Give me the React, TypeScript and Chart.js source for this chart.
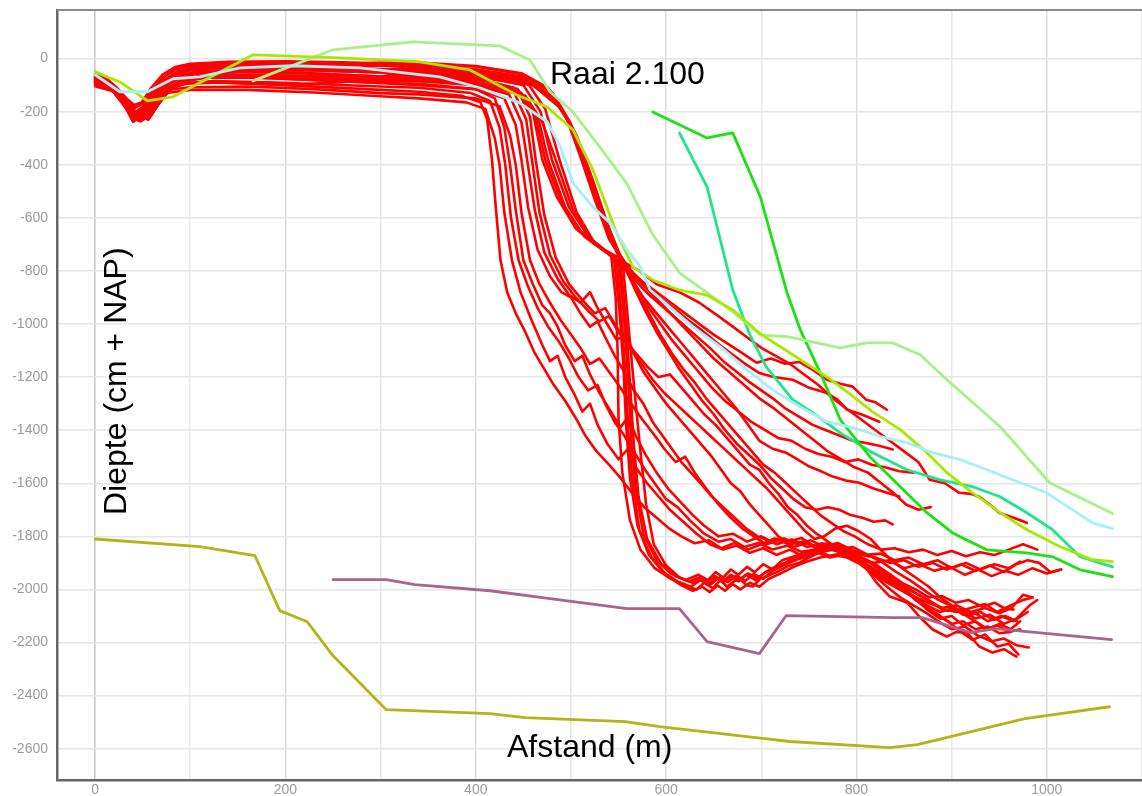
import React, { useEffect, useRef } from 'react';
import { Chart, registerables } from 'chart.js';

Chart.register(...registerables);

type Pt = [number, number];

const TITLE = 'Raai 2.100';
const X_TITLE = 'Afstand (m)';
const Y_TITLE = 'Diepte (cm + NAP)';

const X_MIN = -40;
const X_MAX = 1100;
const Y_MIN = -2718;
const Y_MAX = 183;

// ---- coloured reference profiles ----
const olive: Pt[] = [[0,-1810],[110,-1839],[168,-1873],[194,-2080],[223,-2122],[250,-2250],[306,-2453],[415,-2468],[452,-2483],[557,-2498],[593,-2517],[699,-2560],[730,-2573],[835,-2596],[864,-2585],[977,-2487],[1066,-2442]];
const purple: Pt[] = [[250,-1963],[306,-1963],[336,-1982],[415,-2005],[478,-2035],[559,-2072],[614,-2072],[643,-2197],[698,-2242],[726,-2099],[838,-2106],[869,-2106],[920,-2163],[946,-2148],[1068,-2189]];
const lightGreen: Pt[] = [[166,-84],[250,33],[334,63],[425,48],[457,-5],[478,-125],[502,-201],[530,-332],[559,-472],[586,-664],[614,-807],[643,-882],[670,-954],[699,-1041],[727,-1048],[783,-1090],[811,-1071],[838,-1071],[867,-1116],[895,-1210],[951,-1387],[1003,-1598],[1069,-1714]];
const yellowGreen: Pt[] = [[0,-50],[26,-88],[55,-159],[82,-144],[166,14],[257,3],[341,-12],[394,-43],[443,-137],[475,-182],[502,-268],[523,-419],[548,-657],[565,-785],[586,-834],[614,-872],[643,-891],[670,-947],[699,-1037],[733,-1116],[769,-1199],[790,-1255],[817,-1331],[846,-1398],[874,-1485],[895,-1560],[922,-1636],[951,-1711],[979,-1775],[1014,-1839],[1048,-1888],[1069,-1895]];
const lightBlue: Pt[] = [[0,-61],[26,-125],[55,-125],[82,-76],[110,-69],[152,-35],[208,-27],[278,-35],[362,-69],[404,-110],[446,-167],[475,-238],[489,-333],[502,-468],[523,-559],[541,-619],[559,-721],[573,-785],[583,-871],[607,-946],[628,-1010],[657,-1086],[685,-1172],[712,-1248],[740,-1311],[769,-1368],[796,-1390],[825,-1424],[853,-1447],[880,-1485],[909,-1511],[937,-1549],[964,-1587],[1000,-1636],[1027,-1700],[1048,-1749],[1069,-1771]];
const darkGreen: Pt[] = [[586,-201],[643,-299],[670,-280],[699,-521],[727,-882],[741,-1022],[762,-1184],[783,-1361],[814,-1500],[846,-1613],[874,-1711],[901,-1787],[937,-1851],[979,-1862],[1006,-1877],[1035,-1926],[1069,-1952]];
const teal: Pt[] = [[614,-280],[643,-483],[670,-871],[688,-1041],[705,-1161],[733,-1285],[754,-1334],[783,-1410],[817,-1485],[853,-1549],[888,-1587],[922,-1613],[951,-1651],[979,-1711],[1006,-1775],[1035,-1877],[1069,-1915]];

// ---- red survey profiles: near-shore parts ----
const P1: Pt[] = [[0,-62],[12,-80],[24,-120],[34,-160],[42,-185],[50,-170],[60,-120],[72,-70],[85,-40],[100,-28],[140,-18],[200,-15],[260,-20],[300,-25]];
const P1b: Pt[] = [[0,-68],[13,-88],[25,-130],[36,-175],[43,-200],[51,-180],[61,-130],[73,-80],[86,-50],[102,-35],[150,-25],[210,-22],[260,-26],[300,-28]];
const P1c: Pt[] = [[0,-58],[12,-75],[23,-110],[33,-150],[41,-175],[49,-165],[59,-110],[71,-60],[84,-32],[100,-20],[140,-12],[200,-10],[260,-14],[300,-18]];
const P2: Pt[] = [[0,-70],[14,-95],[26,-140],[36,-190],[44,-215],[52,-195],[62,-140],[74,-90],[88,-55],[105,-40],[150,-32],[210,-35],[260,-42],[300,-48]];
const P2b: Pt[] = [[0,-75],[15,-98],[27,-150],[37,-200],[45,-222],[53,-205],[63,-150],[75,-100],[89,-65],[108,-48],[160,-42],[220,-44],[300,-52]];
const P2c: Pt[] = [[0,-66],[13,-92],[25,-135],[35,-180],[43,-205],[51,-190],[61,-135],[73,-85],[87,-50],[104,-36],[150,-28],[210,-30],[260,-34],[300,-40]];
const P3: Pt[] = [[0,-80],[15,-100],[28,-150],[38,-205],[46,-225],[54,-200],[64,-150],[76,-100],[90,-70],[110,-55],[160,-50],[220,-55],[300,-68]];
const P3b: Pt[] = [[0,-84],[16,-106],[29,-160],[39,-215],[47,-232],[55,-210],[65,-160],[77,-110],[91,-80],[112,-65],[170,-62],[230,-66],[300,-76]];
const P3c: Pt[] = [[0,-86],[17,-108],[30,-165],[40,-225],[48,-236],[56,-215],[66,-165],[78,-115],[93,-85],[115,-72],[170,-70],[240,-76],[300,-85]];
const P4: Pt[] = [[0,-88],[16,-110],[30,-170],[40,-238],[48,-215],[56,-230],[66,-175],[78,-120],[92,-85],[115,-70],[170,-72],[240,-82],[300,-92]];
const P5: Pt[] = [[0,-95],[18,-120],[32,-185],[42,-225],[50,-205],[58,-215],[68,-160],[80,-110],[96,-95],[130,-90],[200,-100],[300,-118]];
const P6: Pt[] = [[0,-99],[20,-118],[34,-180],[44,-210],[54,-195],[64,-150],[76,-118],[100,-108],[160,-105],[230,-115],[300,-130]];
const P7: Pt[] = [[0,-104],[21,-125],[35,-190],[45,-228],[53,-200],[62,-170],[75,-130],[100,-118],[160,-118],[230,-128],[300,-142]];
const P8: Pt[] = [[0,-92],[18,-112],[31,-178],[41,-232],[49,-210],[57,-222],[67,-168],[79,-116],[94,-92],[125,-85],[190,-90],[300,-105]];
const PS1: Pt[] = [[265,-22],[300,-15]];
const PS2: Pt[] = [[144,-92],[208,-99],[260,-88],[300,-72]];

// ---- red survey profiles: offshore parts ----
const TA1: Pt[] = [[340,-125],[385,-140],[405,-165],[412,-230],[417,-380],[421,-560],[426,-760],[433,-880],[442,-960],[452,-1030],[462,-1110],[472,-1170],[482,-1230],[494,-1290],[506,-1360],[515,-1420],[527,-1480],[540,-1530],[552,-1580],[565,-1640],[577,-1690],[590,-1730],[603,-1770],[616,-1800],[630,-1826],[645,-1815],[658,-1845],[672,-1825],[686,-1850],[700,-1830],[714,-1808],[728,-1820],[742,-1806],[756,-1838],[770,-1826],[784,-1850],[798,-1862],[812,-1895],[826,-1930],[840,-1975],[855,-2010],[868,-2055],[882,-2090],[896,-2120],[910,-2160],[922,-2190],[935,-2170],[948,-2215],[960,-2205],[970,-2245]];
const TA2: Pt[] = [[340,-150],[390,-165],[410,-190],[420,-300],[425,-400],[430,-580],[438,-760],[447,-880],[458,-980],[470,-1080],[478,-1140],[486,-1120],[494,-1200],[503,-1260],[512,-1330],[520,-1300],[528,-1380],[538,-1450],[550,-1510],[560,-1470],[568,-1540],[580,-1600],[592,-1650],[604,-1700],[618,-1745],[632,-1790],[646,-1830],[660,-1850],[674,-1835],[688,-1862],[702,-1845],[716,-1870],[730,-1850],[744,-1875],[758,-1860],[772,-1880],[786,-1870],[800,-1890],[815,-1930],[830,-1970],[845,-2000],[860,-2030],[874,-2075],[888,-2110],[900,-2100],[912,-2135],[925,-2120],[938,-2150],[950,-2130],[962,-2150],[972,-2120]];
const TA3: Pt[] = [[340,-110],[395,-130],[415,-160],[425,-260],[431,-400],[437,-600],[445,-760],[455,-860],[465,-940],[476,-1010],[488,-1070],[498,-1130],[508,-1200],[518,-1250],[528,-1230],[536,-1300],[546,-1370],[556,-1420],[566,-1480],[578,-1550],[590,-1610],[600,-1660],[612,-1690],[625,-1740],[640,-1790],[655,-1820],[668,-1810],[682,-1840],[697,-1825],[712,-1850],[727,-1835],[742,-1858],[757,-1850],[772,-1875],[787,-1860],[802,-1890],[818,-1900],[834,-1890],[850,-1920],[866,-1905],[882,-1930],[898,-1915],[914,-1945],[928,-1925],[942,-1950],[956,-1930],[970,-1945],[985,-1920],[1000,-1940],[1015,-1925]];
const TA4: Pt[] = [[340,-95],[400,-115],[420,-150],[430,-260],[436,-400],[442,-570],[450,-760],[460,-850],[470,-930],[478,-960],[486,-1010],[494,-1080],[504,-1140],[512,-1120],[520,-1190],[530,-1260],[542,-1330],[552,-1390],[560,-1350],[568,-1420],[578,-1490],[590,-1560],[602,-1620],[615,-1670],[628,-1720],[640,-1760],[655,-1800],[670,-1790],[685,-1820],[700,-1800],[716,-1830],[732,-1812],[748,-1840],[764,-1826],[780,-1850],[796,-1840],[812,-1870],[828,-1900],[842,-1935],[856,-1965],[870,-2000],[884,-2035],[898,-2060],[912,-2095],[925,-2090],[938,-2120],[952,-2100],[965,-2120],[980,-2085]];
const TA5: Pt[] = [[340,-135],[400,-150],[425,-180],[436,-290],[442,-400],[448,-580],[457,-760],[467,-850],[478,-920],[490,-990],[500,-1040],[510,-1090],[520,-1150],[530,-1130],[540,-1180],[552,-1240],[563,-1300],[575,-1360],[588,-1420],[598,-1470],[610,-1520],[620,-1500],[630,-1560],[642,-1620],[655,-1680],[668,-1730],[680,-1770],[692,-1800],[705,-1830],[720,-1815],[734,-1840],[748,-1825],[762,-1850],[776,-1838],[790,-1860],[805,-1880],[820,-1910],[835,-1950],[850,-1985],[865,-2020],[880,-2050],[895,-2080],[910,-2075],[925,-2110],[940,-2095],[955,-2130],[968,-2110],[982,-2060],[990,-2040]];

const TB1: Pt[] = [[340,-60],[400,-75],[440,-110],[460,-200],[470,-382],[485,-520],[505,-640],[525,-700],[542,-735],[547,-900],[549,-1100],[550,-1360],[554,-1560],[562,-1740],[573,-1850],[588,-1920],[605,-1960],[620,-1985],[632,-2000],[640,-1975],[649,-1995],[657,-1965],[664,-1990],[671,-1970],[677,-1960],[685,-1985],[691,-1989],[699,-1960],[706,-1951],[716,-1935],[727,-1914],[740,-1899],[750,-1880],[761,-1861],[775,-1850],[790,-1861],[806,-1899],[821,-1974],[835,-2027],[853,-2049],[866,-2102],[880,-2151],[895,-2178],[905,-2160],[916,-2162],[929,-2215],[943,-2238],[955,-2225],[968,-2253]];
const TB2: Pt[] = [[340,-55],[400,-70],[445,-120],[463,-220],[473,-382],[490,-540],[510,-650],[530,-710],[545,-745],[551,-950],[555,-1150],[558,-1380],[562,-1580],[570,-1760],[582,-1870],[597,-1935],[612,-1970],[626,-1990],[636,-1965],[645,-1985],[652,-1955],[660,-1975],[668,-1950],[676,-1970],[684,-1945],[694,-1965],[704,-1935],[716,-1920],[730,-1890],[745,-1870],[760,-1850],[772,-1830],[786,-1845],[800,-1870],[815,-1900],[830,-1935],[845,-1980],[860,-2010],[875,-2040],[890,-2075],[905,-2085],[920,-2070],[935,-2055],[948,-2085],[962,-2060],[975,-2040],[985,-2030]];
const TB3: Pt[] = [[340,-70],[400,-85],[448,-130],[466,-230],[476,-382],[494,-560],[514,-670],[533,-720],[548,-760],[553,-960],[557,-1180],[560,-1400],[565,-1600],[572,-1780],[585,-1880],[600,-1945],[616,-1985],[628,-2005],[638,-1990],[646,-2010],[654,-1985],[662,-2005],[670,-1980],[678,-2000],[688,-1975],[698,-1990],[708,-1960],[720,-1940],[734,-1915],[748,-1895],[762,-1880],[776,-1870],[790,-1880],[804,-1905],[818,-1945],[832,-1990],[846,-2030],[860,-2060],[874,-2090],[888,-2125],[900,-2150],[914,-2140],[928,-2175],[942,-2195],[955,-2185],[968,-2210],[981,-2219]];
const TB4: Pt[] = [[340,-45],[400,-62],[450,-100],[468,-200],[480,-382],[498,-560],[518,-670],[537,-725],[550,-750],[556,-980],[560,-1200],[563,-1420],[568,-1620],[576,-1790],[590,-1890],[605,-1940],[620,-1965],[634,-1945],[644,-1965],[652,-1935],[660,-1955],[668,-1925],[676,-1945],[685,-1915],[693,-1935],[702,-1905],[712,-1925],[722,-1890],[735,-1875],[748,-1860],[762,-1845],[776,-1830],[790,-1845],[805,-1870],[820,-1880],[835,-1900],[850,-1890],[865,-1915],[880,-1900],[895,-1925],[910,-1905],[925,-1930],[940,-1910],[955,-1935],[968,-1905],[980,-1890],[992,-1900],[1004,-1935],[1015,-1925]];
const TB5: Pt[] = [[340,-80],[400,-95],[452,-140],[470,-240],[484,-382],[502,-570],[520,-680],[538,-730],[552,-770],[558,-1000],[562,-1220],[566,-1450],[571,-1650],[580,-1810],[594,-1900],[610,-1950],[624,-1970],[635,-1955],[643,-1975],[651,-1950],[660,-1968],[668,-1945],[677,-1962],[686,-1940],[696,-1958],[706,-1932],[717,-1910],[730,-1895],[743,-1875],[757,-1860],[771,-1848],[785,-1862],[800,-1885],[815,-1920],[830,-1960],[845,-1995],[860,-2025],[874,-2060],[888,-2085],[902,-2070],[916,-2100],[930,-2085],[944,-2115],[956,-2100],[969,-2121]];
const TB6: Pt[] = [[340,-40],[400,-55],[455,-95],[473,-190],[488,-382],[506,-580],[524,-690],[541,-740],[555,-790],[561,-1030],[567,-1260],[573,-1480],[579,-1680],[587,-1830],[600,-1910],[614,-1955],[628,-1975],[638,-1960],[647,-1980],[656,-1955],[665,-1972],[674,-1948],[683,-1968],[692,-1942],[702,-1960],[712,-1930],[724,-1908],[737,-1888],[751,-1872],[765,-1855],[778,-1845],[792,-1858],[806,-1880],[820,-1905],[834,-1940],[848,-1975],[862,-2000],[876,-2030],[890,-2025],[904,-2050],[918,-2040],[932,-2065],[945,-2050],[955,-2070],[965,-2076]];

const TC1: Pt[] = [[340,-100],[400,-115],[430,-150],[442,-250],[448,-382],[455,-560],[465,-720],[478,-820],[490,-880],[500,-900],[510,-960],[520,-1010],[528,-990],[536,-1050],[546,-1120],[556,-1180],[566,-1250],[576,-1300],[586,-1370],[596,-1420],[606,-1470],[616,-1520],[626,-1560],[636,-1600],[648,-1650],[660,-1690],[672,-1730],[684,-1770],[696,-1800],[710,-1820],[724,-1808],[738,-1830],[752,-1815],[766,-1840],[780,-1825],[795,-1850],[810,-1870],[825,-1865],[840,-1890],[855,-1880],[870,-1905],[885,-1890],[900,-1920],[915,-1900],[930,-1925],[945,-1905],[960,-1920],[972,-1895]];
const TC2: Pt[] = [[340,-85],[400,-100],[435,-135],[448,-240],[454,-382],[462,-570],[472,-730],[486,-830],[498,-890],[510,-920],[520,-880],[528,-940],[538,-1000],[548,-1060],[558,-1040],[566,-1110],[576,-1180],[588,-1240],[600,-1300],[612,-1350],[624,-1400],[636,-1450],[648,-1500],[658,-1550],[668,-1600],[678,-1630],[688,-1680],[698,-1720],[708,-1760],[718,-1800],[730,-1830],[744,-1820],[758,-1845],[772,-1830],[786,-1855],[800,-1880],[815,-1920],[830,-1960],[845,-1990],[860,-2025],[875,-2050],[890,-2070],[905,-2060],[920,-2085],[935,-2070],[950,-2090],[963,-2070],[975,-2020],[985,-2030]];
const TC3: Pt[] = [[340,-75],[405,-90],[440,-125],[453,-230],[459,-382],[467,-580],[478,-740],[492,-840],[505,-900],[518,-950],[530,-990],[540,-970],[550,-1030],[562,-1090],[574,-1150],[586,-1210],[598,-1260],[610,-1300],[622,-1340],[634,-1380],[646,-1420],[658,-1460],[670,-1500],[682,-1540],[694,-1580],[706,-1620],[716,-1660],[726,-1700],[736,-1740],[746,-1780],[756,-1810],[766,-1800],[778,-1770],[790,-1760],[802,-1780],[815,-1810],[828,-1860],[840,-1900],[852,-1930],[864,-1960],[876,-1990],[888,-2030],[900,-2060],[912,-2090],[924,-2120],[936,-2150],[948,-2135],[960,-2160],[972,-2150]];
const TC4: Pt[] = [[340,-65],[405,-80],[444,-115],[457,-220],[463,-382],[472,-590],[484,-750],[498,-850],[512,-910],[525,-960],[536,-940],[546,-1000],[556,-1060],[568,-1110],[580,-1160],[592,-1200],[604,-1190],[616,-1240],[628,-1290],[640,-1340],[652,-1380],[664,-1430],[676,-1480],[688,-1530],[698,-1550],[708,-1600],[718,-1640],[728,-1690],[738,-1720],[748,-1760],[758,-1790],[770,-1820],[782,-1850],[795,-1870],[808,-1900],[822,-1930],[836,-1970],[850,-2000],[862,-2040],[875,-2070],[888,-2100],[900,-2130],[912,-2120],[925,-2150],[938,-2140],[950,-2165],[962,-2160]];

const TD1: Pt[] = [[340,-30],[400,-45],[450,-75],[480,-140],[500,-250],[515,-400],[530,-560],[545,-700],[560,-790],[575,-840],[590,-880],[605,-920],[620,-960],[635,-1000],[650,-1040],[665,-1075],[680,-1110],[695,-1146],[710,-1130],[725,-1150],[740,-1143],[755,-1175],[769,-1210],[783,-1225],[796,-1236],[810,-1285],[820,-1295],[832,-1323]];
const TD2: Pt[] = [[340,-40],[400,-55],[455,-85],[485,-160],[503,-270],[518,-420],[533,-580],[548,-720],[563,-810],[578,-860],[593,-900],[608,-940],[623,-985],[638,-1025],[653,-1070],[668,-1110],[683,-1150],[698,-1185],[713,-1200],[733,-1210],[750,-1240],[769,-1260],[780,-1285],[790,-1323],[805,-1340],[824,-1368]];
const TD3: Pt[] = [[340,-50],[400,-65],[458,-95],[488,-175],[506,-290],[521,-440],[536,-600],[550,-735],[566,-830],[582,-890],[598,-940],[614,-990],[630,-1040],[646,-1090],[660,-1140],[674,-1180],[688,-1220],[700,-1250],[712,-1280],[726,-1320],[740,-1350],[754,-1380],[768,-1400],[782,-1420],[796,-1440],[810,-1448],[825,-1460],[838,-1473]];
const TD4: Pt[] = [[340,-35],[400,-50],[452,-80],[482,-150],[501,-260],[517,-410],[532,-570],[547,-710],[562,-820],[576,-900],[590,-960],[604,-1020],[618,-1080],[632,-1140],[646,-1200],[660,-1260],[674,-1320],[686,-1380],[698,-1440],[712,-1470],[726,-1485],[738,-1510],[751,-1538],[763,-1555],[775,-1575],[789,-1590],[803,-1598],[818,-1620],[832,-1636],[845,-1650]];
const TD5: Pt[] = [[340,-55],[400,-70],[460,-100],[490,-190],[508,-310],[523,-460],[538,-620],[552,-745],[566,-860],[578,-950],[590,-1030],[602,-1100],[614,-1170],[626,-1230],[638,-1290],[650,-1340],[662,-1400],[674,-1450],[686,-1490],[698,-1530],[710,-1580],[722,-1620],[734,-1660],[746,-1690],[758,-1700],[770,-1690],[782,-1700],[794,-1720],[806,-1730],[818,-1745],[830,-1740],[838,-1755]];
const TD6: Pt[] = [[340,-20],[400,-30],[450,-60],[478,-120],[497,-230],[512,-380],[527,-540],[542,-690],[557,-770],[572,-800],[590,-850],[614,-880],[635,-920],[656,-973],[670,-1010],[685,-1050],[700,-1090],[715,-1120],[730,-1150],[745,-1190],[760,-1230],[775,-1280],[790,-1320],[805,-1360],[820,-1400],[835,-1440],[850,-1480],[865,-1520],[877,-1587],[893,-1600],[908,-1636],[920,-1640],[929,-1651],[940,-1680],[950,-1711],[965,-1730],[979,-1749]];
const TD7: Pt[] = [[340,-45],[400,-60],[456,-90],[486,-165],[504,-280],[519,-430],[534,-590],[549,-725],[564,-840],[578,-920],[592,-990],[606,-1060],[620,-1120],[634,-1180],[648,-1240],[662,-1290],[676,-1330],[690,-1370],[704,-1400],[718,-1430],[732,-1440],[746,-1470],[760,-1490],[774,-1500],[788,-1520],[802,-1510],[816,-1530],[830,-1540],[845,-1555],[860,-1560]];
const TD8: Pt[] = [[340,-25],[400,-40],[452,-70],[481,-130],[499,-240],[514,-390],[529,-550],[544,-700],[558,-800],[570,-880],[582,-960],[594,-1040],[606,-1110],[618,-1170],[630,-1220],[642,-1280],[654,-1330],[666,-1380],[678,-1430],[690,-1480],[702,-1530],[714,-1560],[726,-1600],[738,-1640],[750,-1680],[762,-1720],[774,-1750],[786,-1780],[798,-1800],[812,-1830],[826,-1850],[840,-1845],[855,-1860],[870,-1850],[885,-1870],[900,-1855],[915,-1875],[930,-1860],[945,-1870],[960,-1850],[975,-1830],[990,-1850]];
const TD9: Pt[] = [[340,-15],[400,-28],[448,-55],[476,-110],[495,-220],[510,-370],[525,-530],[540,-680],[555,-760],[570,-830],[586,-890],[602,-950],[618,-1010],[634,-1070],[650,-1130],[666,-1180],[682,-1230],[698,-1280],[714,-1320],[728,-1360],[742,-1400],[756,-1440],[770,-1480],[784,-1510],[798,-1540],[812,-1560],[826,-1600],[840,-1640],[852,-1680],[865,-1700],[878,-1690]];

const RED_PROFILES: Pt[][][] = [
  [P5, TA1], [P7, TA2], [P8, TA3], [P4, TA4], [P6, TA5],
  [P3, TB1], [P2b, TB2], [P3b, TB3], [P2c, TB4], [P3c, TB5], [P2, TB6],
  [P4, TC1], [P3c, TC2], [P3b, TC3], [PS2, TC4],
  [P1b, TD1], [P2c, TD2], [P2b, TD3], [P1, TD4], [P2, TD5], [P1c, TD6], [P3, TD7], [P1, TD8], [PS1, TD9],
];

const COLOURED = [
  { data: lightBlue, color: '#a6eef8' },
  { data: yellowGreen, color: '#a8e800' },
  { data: lightGreen, color: '#a8f08a' },
  { data: darkGreen, color: '#1ee014' },
  { data: teal, color: '#1ee688' },
  { data: purple, color: '#a8648e' },
  { data: olive, color: '#b4b418' },
];

const toXY = (pts: Pt[]) => pts.map(([x, y]) => ({ x, y }));

const overlayPlugin = {
  id: 'overlayText',
  afterDraw(chart: any) {
    const { ctx, chartArea } = chart;
    ctx.save();
    ctx.strokeStyle = '#8a8a8a';
    ctx.lineWidth = 2;
    ctx.beginPath();
    ctx.moveTo(chartArea.left, chartArea.top);
    ctx.lineTo(chartArea.right, chartArea.top);
    ctx.stroke();
    ctx.fillStyle = '#000';
    ctx.font = '32px "Liberation Sans", Arial, sans-serif';
    ctx.textBaseline = 'alphabetic';
    ctx.textAlign = 'left';
    ctx.fillText(TITLE, 550, 84);
    ctx.fillText(X_TITLE, 507, 757);
    ctx.translate(126, 515);
    ctx.rotate(-Math.PI / 2);
    ctx.fillText(Y_TITLE, 0, 0);
    ctx.restore();
  },
};

export default function App() {
  const ref = useRef<HTMLCanvasElement | null>(null);

  useEffect(() => {
    if (!ref.current) return;
    const datasets: any[] = [];
    COLOURED.forEach((c) => {
      datasets.push({
        data: toXY(c.data),
        borderColor: c.color,
        borderWidth: 2.8,
        pointRadius: 0,
        order: 0,
      });
    });
    RED_PROFILES.forEach((parts) => {
      const pts: Pt[] = [];
      parts.forEach((p) => p.forEach((q) => pts.push(q)));
      datasets.push({
        data: toXY(pts),
        borderColor: '#ff0000',
        borderWidth: 2.6,
        pointRadius: 0,
        order: 5,
      });
    });

    const tickFont = { family: '"Liberation Sans", Arial, sans-serif', size: 14 };
    const chart = new Chart(ref.current, {
      type: 'line',
      data: { datasets },
      options: {
        animation: false,
        responsive: false,
        maintainAspectRatio: false,
        parsing: false as any,
        layout: { padding: { top: 10, right: 0, bottom: 0, left: 0 } },
        plugins: { legend: { display: false }, tooltip: { enabled: false } },
        elements: {
          point: { radius: 0 },
          line: { tension: 0, borderJoinStyle: 'round', borderCapStyle: 'round' },
        },
        scales: {
          x: {
            type: 'linear',
            min: X_MIN,
            max: X_MAX,
            afterFit: (s: any) => {
              s.height = 16;
              s.paddingLeft = 0;
              s.paddingRight = 0;
            },
            ticks: {
              stepSize: 100,
              includeBounds: false,
              autoSkip: false,
              maxRotation: 0,
              padding: 2,
              color: '#9a9a9a',
              font: tickFont,
              callback: (v: any) => (Number(v) % 200 === 0 ? String(v) : ''),
            },
            grid: {
              drawTicks: false,
              color: (ctx: any) => {
                const v = ctx.tick ? ctx.tick.value : 1;
                if (v === 0) return '#c4c4c4';
                return v % 200 === 0 ? '#dcdcdc' : '#e8e8e8';
              },
              lineWidth: 1.5,
            },
            border: { color: '#666', width: 2.5 },
          },
          y: {
            type: 'linear',
            min: Y_MIN,
            max: Y_MAX,
            afterFit: (s: any) => {
              s.width = 57;
              s.paddingTop = 0;
              s.paddingBottom = 0;
            },
            ticks: {
              stepSize: 200,
              includeBounds: false,
              autoSkip: false,
              padding: 9,
              color: '#9a9a9a',
              font: tickFont,
              callback: (v: any) => String(v),
            },
            grid: { drawTicks: false, color: '#e6e6e6', lineWidth: 1.5 },
            border: { color: '#666', width: 2.5 },
          },
        },
      } as any,
      plugins: [overlayPlugin],
    });
    return () => chart.destroy();
  }, []);

  return (
    <div style={{ position: 'fixed', left: 0, top: 0, width: 1142, height: 796, background: '#fff' }}>
      <canvas ref={ref} width={1142} height={796} style={{ display: 'block' }} />
    </div>
  );
}
